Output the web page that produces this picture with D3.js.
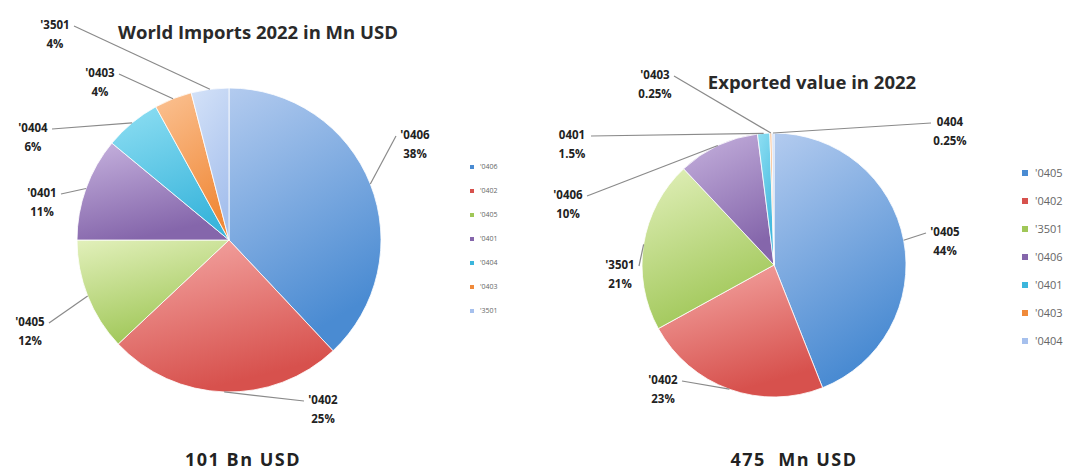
<!DOCTYPE html>
<html>
<head>
<meta charset="utf-8">
<script src="https://cdn.jsdelivr.net/npm/d3@7"></script>
<style>
  html, body { margin: 0; padding: 0; background: #fff; }
  svg { display: block; font-family: "Open Sans", Lato, sans-serif; }
  text { white-space: pre; }
</style>
</head>
<body>
<div id="chart"></div>
<script>
// --- data ---
const importCategories = ["'0406", "'0402", "'0405", "'0401", "'0404", "'0403", "'3501"];
const importShares = [38, 25, 12, 11, 6, 4, 4];
const importLabels = ["'0406", "'0402", "'0405", "'0401", "'0404", "'0403", "'3501"];

const exportCategories = ["'0405", "'0402", "'3501", "'0406", "'0401", "'0403", "'0404"];
const exportShares = [44, 23, 21, 10, 1.5, 0.25, 0.25];
const exportLabels = ["'0405", "'0402", "'3501", "'0406", "0401", "'0403", "0404"];

const titles = ["World Imports 2022 in Mn USD", "Exported value in 2022"];
const totals = ["101 Bn USD", "475  Mn USD"];

// slice palette (light top / dark bottom of each gradient)
const paletteLight = ["#b3cbef", "#f5aaa7", "#e2f0bb", "#c6b2de", "#8fdff3", "#fbc293", "#d4e2f8"];
const paletteDark  = ["#4a8bd2", "#d7514d", "#a0c758", "#8566ab", "#3cb6dc", "#f08a3a", "#a6c0ed"];

var width = 1079,
    height = 472;

var svg = d3.select("#chart")
  .append("svg")
  .attr("width", width)
  .attr("height", height);

svg.append("rect").attr("width", width).attr("height", height).attr("fill", "#fff");

var defs = svg.append("defs");
paletteLight.forEach(function(c, i) {
  var g = defs.append("linearGradient")
    .attr("id", "grad" + i)
    .attr("x1", 0).attr("y1", 0).attr("x2", 0.35).attr("y2", 1);
  g.append("stop").attr("offset", "0%").attr("stop-color", c);
  g.append("stop").attr("offset", "100%").attr("stop-color", paletteDark[i]);
});

// layout: label offsets from pie centre (first line), legend placement
var charts = [
  {
    cats: importCategories, vals: importShares, names: importLabels,
    cx: 229, cy: 240, r: 152,
    title: titles[0], titleX: 258, titleY: 39,
    total: totals[0], totalX: 243, totalY: 466,
    labelPos: [[186, -105], [94, 160], [-199, 82], [-187, -47], [-196, -112], [-129, -167], [-174, -215]],
    legend: { x: 472, y: 167, step: 24, box: 4, size: 7 }
  },
  {
    cats: exportCategories, vals: exportShares, names: exportLabels,
    cx: 774, cy: 265, r: 132,
    title: titles[1], titleX: 812, titleY: 89,
    total: totals[1], totalX: 794, totalY: 466,
    labelPos: [[171, -33], [-111, 115], [-154, 0], [-206, -70], [-202, -130], [-119, -190], [176, -143]],
    legend: { x: 1025, y: 173, step: 28, box: 6, size: 11 }
  }
];

var color = d3.scaleOrdinal().domain(d3.range(7)).range(d3.range(7).map(function(i) { return "url(#grad" + i + ")"; }));
var swatch = d3.scaleOrdinal().domain(d3.range(7)).range(paletteDark);

charts.forEach(function(c) {
  var pie = d3.pie().sort(null).value(function(d) { return d; });
  var arcs = pie(c.vals);
  var arc = d3.arc().innerRadius(0).outerRadius(c.r);

  var g = svg.append("g").attr("transform", "translate(" + c.cx + "," + c.cy + ")");

  g.selectAll("path.slice")
    .data(arcs)
    .enter()
    .append("path")
    .attr("class", "slice")
    .attr("d", arc)
    .attr("fill", function(d, i) { return color(i); })
    .attr("stroke", "#fff")
    .attr("stroke-width", 0.8);

  // data labels + leader lines
  var lab = g.selectAll("g.lab")
    .data(arcs)
    .enter()
    .append("g")
    .attr("class", "lab");

  lab.each(function(d, i) {
    var p = c.labelPos[i];
    var a = (d.startAngle + d.endAngle) / 2;
    var ex = Math.sin(a) * c.r, ey = -Math.cos(a) * c.r;
    var sx = p[0] + (ex > p[0] ? 19 : -19), sy = p[1] + 1;
    if (Math.hypot(ex - sx, ey - sy) > 22) {
      d3.select(this).append("line")
        .attr("x1", sx).attr("y1", sy).attr("x2", ex).attr("y2", ey)
        .attr("stroke", "#8a8a8a").attr("stroke-width", 1.2);
    }
    var t = d3.select(this).append("text")
      .attr("text-anchor", "middle")
      .attr("font-size", 11.5)
      .attr("font-weight", "bold")
      .attr("fill", "#222");
    t.append("tspan").attr("x", p[0]).attr("y", p[1] + 4).text(c.names[i]);
    t.append("tspan").attr("x", p[0]).attr("y", p[1] + 23).text(c.vals[i] + "%");
  });

  svg.append("text")
    .attr("x", c.titleX).attr("y", c.titleY)
    .attr("text-anchor", "middle")
    .attr("font-size", 18.5)
    .attr("font-weight", "bold")
    .attr("fill", "#2a2a2a")
    .text(c.title);

  svg.append("text")
    .attr("x", c.totalX).attr("y", c.totalY)
    .attr("text-anchor", "middle")
    .attr("font-size", 18)
    .attr("font-weight", "bold")
    .attr("letter-spacing", 1.5)
    .attr("fill", "#222")
    .text(c.total);

  // legend
  var L = c.legend;
  var leg = svg.append("g").selectAll("g")
    .data(c.cats)
    .enter()
    .append("g")
    .attr("transform", function(d, i) { return "translate(" + L.x + "," + (L.y + i * L.step) + ")"; });
  leg.append("rect")
    .attr("x", -L.box / 2).attr("y", -L.box / 2)
    .attr("width", L.box).attr("height", L.box)
    .attr("fill", function(d, i) { return swatch(i); });
  leg.append("text")
    .attr("x", L.box + 4).attr("y", L.size * 0.35)
    .attr("font-size", L.size)
    .attr("fill", "#666")
    .text(function(d) { return d; });
});
</script>
</body>
</html>
